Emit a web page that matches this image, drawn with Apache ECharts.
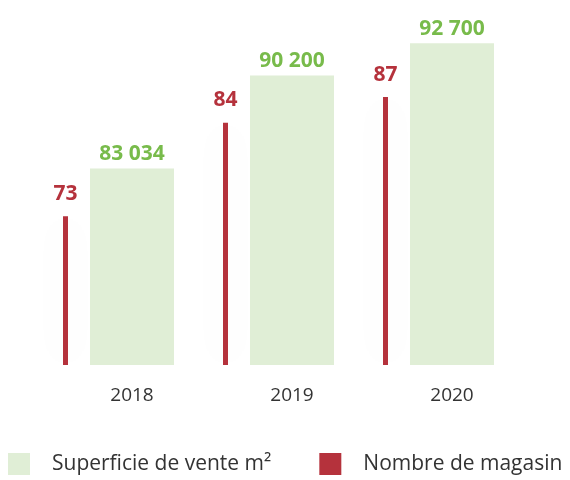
<!DOCTYPE html>
<html><head><meta charset="utf-8">
<script src="https://cdn.jsdelivr.net/npm/echarts@6/dist/echarts.min.js"></script>
<style>html,body{margin:0;padding:0;background:#fff}#c{width:570px;height:480px}</style>
</head><body><div id="c"></div>
<script>
var categories = ['2018', '2019', '2020'];
var magasins = [73, 84, 87];
var superficie = [83034, 90200, 92700];
var seriesNames = ['Superficie de vente m²', 'Nombre de magasin'];

var FONT = '"Open Sans", "Noto Sans", sans-serif';
function fmt(v) { return String(v).replace(/\B(?=(\d{3})+(?!\d))/g, ' '); }

var chart = echarts.init(document.getElementById('c'));
chart.setOption({
  animation: false,
  backgroundColor: '#fff',
  grid: { left: 38.5, width: 480, top: 37, bottom: 115 },
  legend: {
    data: [seriesNames[0], seriesNames[1]],
    icon: 'rect',
    left: 3, top: 448, padding: 5,
    itemWidth: 22, itemHeight: 22, itemGap: 48,
    textStyle: { fontFamily: FONT, fontSize: 21, color: '#333', padding: [0, 0, 0, 17] }
  },
  xAxis: {
    type: 'category', data: categories,
    axisLine: { show: false }, axisTick: { show: false },
    axisLabel: { fontFamily: FONT, fontSize: 19, color: '#333', margin: 21, padding: [0, 0, 0, 27] }
  },
  yAxis: [
    { type: 'value', min: 67900, max: 93175, show: false, splitLine: { show: false } },
    { type: 'value', min: 55.5, max: 94.07, show: false, splitLine: { show: false } }
  ],
  series: [
    {
      name: seriesNames[1], type: 'bar', yAxisIndex: 1, data: magasins,
      barWidth: 5, barGap: '440%',
      itemStyle: { color: '#b5323c', shadowBlur: 40, shadowColor: 'rgba(0,0,0,0.07)' },
      label: { show: true, position: 'top', distance: 12, fontFamily: FONT, fontWeight: 'bold', fontSize: 21, color: '#b5323c' }
    },
    {
      name: seriesNames[0], type: 'bar', yAxisIndex: 0, data: superficie,
      barWidth: 84,
      itemStyle: { color: '#e0eed6' },
      label: { show: true, position: 'top', distance: 4, fontFamily: FONT, fontWeight: 'bold', fontSize: 21, color: '#78bb4b',
        formatter: function (p) { return fmt(p.value); } }
    }
  ]
});
</script></body></html>
